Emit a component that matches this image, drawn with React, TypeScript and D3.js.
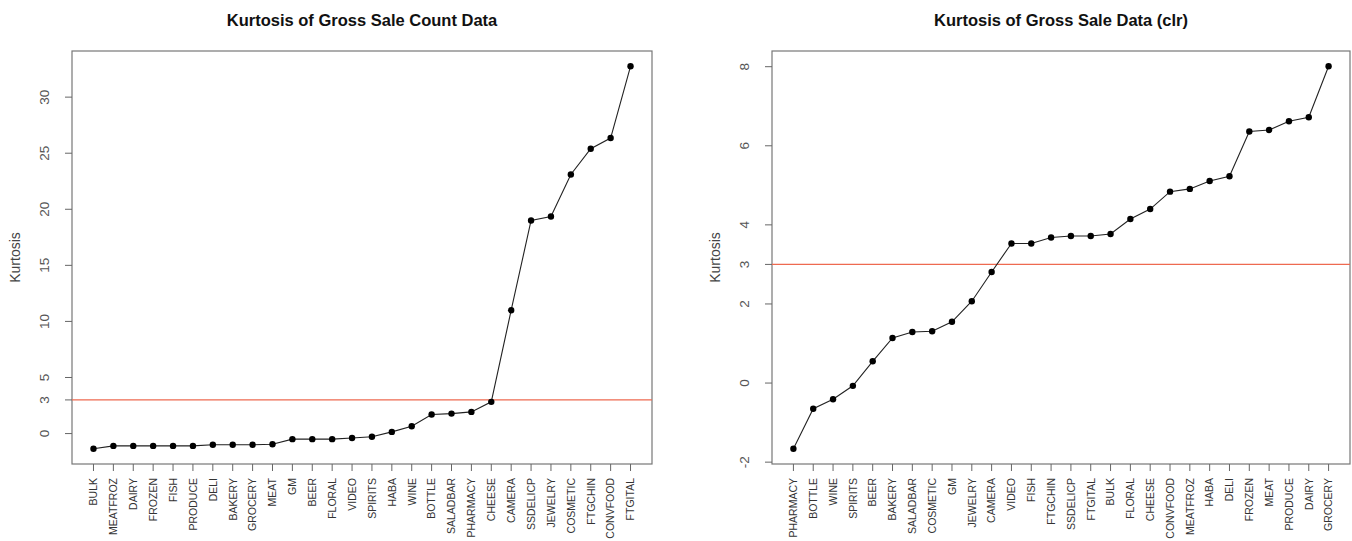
import * as d3 from 'd3';
import React from 'react';

const countCategories = ['BULK', 'MEATFROZ', 'DAIRY', 'FROZEN', 'FISH', 'PRODUCE', 'DELI', 'BAKERY', 'GROCERY', 'MEAT', 'GM', 'BEER', 'FLORAL', 'VIDEO', 'SPIRITS', 'HABA', 'WINE', 'BOTTLE', 'SALADBAR', 'PHARMACY', 'CHEESE', 'CAMERA', 'SSDELICP', 'JEWELRY', 'COSMETIC', 'FTGCHIN', 'CONVFOOD', 'FTGITAL'];
const countKurtosis = [-1.35, -1.1, -1.1, -1.1, -1.1, -1.1, -1.0, -1.0, -1.0, -0.95, -0.5, -0.5, -0.5, -0.4, -0.28, 0.15, 0.65, 1.7, 1.78, 1.93, 2.83, 11.0, 19.0, 19.35, 23.1, 25.4, 26.35, 32.75];
const countTicks = [0, 3, 5, 10, 15, 20, 25, 30];

const clrCategories = ['PHARMACY', 'BOTTLE', 'WINE', 'SPIRITS', 'BEER', 'BAKERY', 'SALADBAR', 'COSMETIC', 'GM', 'JEWELRY', 'CAMERA', 'VIDEO', 'FISH', 'FTGCHIN', 'SSDELICP', 'FTGITAL', 'BULK', 'FLORAL', 'CHEESE', 'CONVFOOD', 'MEATFROZ', 'HABA', 'DELI', 'FROZEN', 'MEAT', 'PRODUCE', 'DAIRY', 'GROCERY'];
const clrKurtosis = [-1.66, -0.65, -0.41, -0.07, 0.55, 1.14, 1.29, 1.31, 1.55, 2.07, 2.81, 3.53, 3.53, 3.68, 3.72, 3.72, 3.77, 4.15, 4.4, 4.84, 4.91, 5.11, 5.23, 6.36, 6.4, 6.62, 6.72, 8.01];
const clrTicks = [-2, 0, 2, 3, 4, 6, 8];

const refLine = 3;
const font = 'Liberation Sans, Arial, sans-serif';

type PanelProps = {
  title: string;
  cats: string[];
  vals: number[];
  ticks: number[];
  left: number;
  right: number;
};

function Panel({ title, cats, vals, ticks, left, right }: PanelProps) {
  const top = 51, bottom = 464;
  const n = cats.length;
  // R style 4% axis extension
  const xPad = (n - 1) * 0.04;
  const x = d3.scaleLinear().domain([1 - xPad, n + xPad]).range([left, right]);
  const [lo, hi] = d3.extent(vals) as [number, number];
  const yPad = (hi - lo) * 0.04;
  const y = d3.scaleLinear().domain([lo - yPad, hi + yPad]).range([bottom, top]);

  const line = d3.line<number>()
    .x((d, i) => x(i + 1))
    .y(d => y(d));

  const mid = (left + right) / 2;

  return (
    <g fontFamily={font}>
      <text x={mid} y={26} textAnchor="middle" fontWeight="bold" fontSize={16.5} fill="#111">{title}</text>
      <rect x={left} y={top} width={right - left} height={bottom - top} fill="none" stroke="#777" strokeWidth={1.2} />
      <line x1={left} x2={right} y1={y(refLine)} y2={y(refLine)} stroke="#ee6a50" strokeWidth={1.4} />
      {ticks.map(t => (
        <g key={t}>
          <line x1={left - 7} x2={left} y1={y(t)} y2={y(t)} stroke="#666" />
          <text transform={`translate(${left - 23},${y(t)}) rotate(-90)`} textAnchor="middle" fontSize={13.5} fill="#555">{t}</text>
        </g>
      ))}
      <text transform={`translate(${left - 52},${(top + bottom) / 2}) rotate(-90)`} textAnchor="middle" fontSize={14} fill="#444">Kurtosis</text>
      {cats.map((c, i) => (
        <g key={c}>
          <line x1={x(i + 1)} x2={x(i + 1)} y1={bottom} y2={bottom + 7} stroke="#666" />
          <text transform={`translate(${x(i + 1) + 3.8},${bottom + 14}) rotate(-90)`} textAnchor="end" fontSize={10.5} fill="#333">{c}</text>
        </g>
      ))}
      <path d={line(vals) ?? ''} fill="none" stroke="#222" strokeWidth={1.1} />
      {vals.map((v, i) => (
        <circle key={i} cx={x(i + 1)} cy={y(v)} r={3.2} fill="#000" />
      ))}
    </g>
  );
}

export default function App() {
  return (
    <svg width={1352} height={541} style={{ position: 'absolute', left: 0, top: 0, background: '#fff' }}>
      <rect width={1352} height={541} fill="#fff" />
      <Panel title="Kurtosis of Gross Sale Count Data" cats={countCategories} vals={countKurtosis} ticks={countTicks} left={72} right={652} />
      <Panel title="Kurtosis of Gross Sale Data (clr)" cats={clrCategories} vals={clrKurtosis} ticks={clrTicks} left={772} right={1350} />
    </svg>
  );
}
